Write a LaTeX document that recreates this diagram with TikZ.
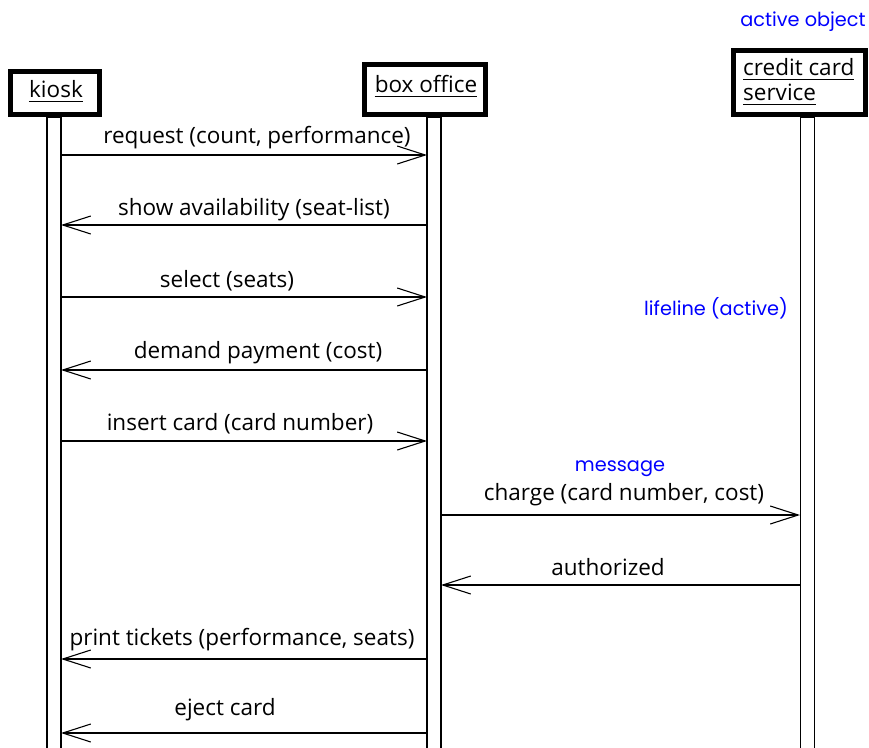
\documentclass[tikz,border=0pt]{standalone}
\usepackage{fontspec}
\setmainfont{Open Sans}
\newfontfamily\bluefont{Poppins}
\usetikzlibrary{arrows.meta}
\newcommand\objul[1]{\tikz[baseline=(t.base)]{\node[inner sep=0pt] (t) {#1};\draw[line width=1.6pt] ([yshift=-4.5pt]t.base west) -- ([yshift=-4.5pt]t.base east);}}
\begin{document}
\begin{tikzpicture}[x=1pt,y=-1pt,
  objbox/.style={draw=black,line width=5pt,fill=white,inner sep=0pt},
  objtxt/.style={inner sep=0pt,font=\fontsize{22.5}{25}\selectfont},
  lifebar/.style={draw=black,line width=1.3pt,fill=white,inner sep=0pt,minimum width=14pt},
  msg/.style={line width=1.1pt,-{Straight Barb[length=28pt,width=18pt,line width=1.1pt]}},
  lbl/.style={anchor=base,inner sep=0pt,font=\fontsize{22.5}{25}\selectfont},
  note/.style={anchor=base,inner sep=0pt,text=blue,font=\bluefont\fontsize{19.3}{22}\selectfont}]
\useasboundingbox (0,0) rectangle (869,747);
\fill[white] (0,0) rectangle (869,747);
% lifelines
\node[lifebar,minimum height=640pt] (kl) at (54,437) {};
\node[lifebar,minimum height=640pt] (bl) at (434,437) {};
\node[lifebar,minimum height=640pt] (cl) at (807.5,437) {};
% objects
\node[objbox,minimum width=89pt,minimum height=43pt] (kiosk) at (55,93) {};
\node[objtxt,anchor=base] (kt) at (56,97) {\objul{kiosk}};
\node[objbox,minimum width=121pt,minimum height=50pt] (box) at (425,89.5) {};
\node[objtxt,anchor=base] (bt) at (426,92) {\objul{box office}};
\node[objbox,minimum width=132pt,minimum height=64pt] (cc) at (799.5,82.5) {};
\node[objtxt,anchor=base west] (ct1) at (742,75) {\objul{credit card}};
\node[objtxt,anchor=base west] (ct2) at (742,100) {\objul{service}};
% coordinates
\coordinate (k1) at (61,155);  \coordinate (b1) at (427,155);
\coordinate (k2) at (61,225);  \coordinate (b2) at (427,225);
\coordinate (k3) at (61,297);  \coordinate (b3) at (427,297);
\coordinate (k4) at (61,370);  \coordinate (b4) at (427,370);
\coordinate (k5) at (61,441);  \coordinate (b5) at (427,441);
\coordinate (b6) at (441,515); \coordinate (c6) at (800,515);
\coordinate (b7) at (441,585); \coordinate (c7) at (800,585);
\coordinate (k8) at (61,659);  \coordinate (b8) at (427,659);
\coordinate (k9) at (61,733);  \coordinate (b9) at (427,733);
% messages
\draw[msg] (k1) -- (b1);
\draw[msg] (b2) -- (k2);
\draw[msg] (k3) -- (b3);
\draw[msg] (b4) -- (k4);
\draw[msg] (k5) -- (b5);
\draw[msg] (b6) -- (c6);
\draw[msg] (c7) -- (b7);
\draw[msg] (b8) -- (k8);
\draw[msg] (b9) -- (k9);
% labels
\node[lbl] (l1) at (257,143) {request (count, performance)};
\node[lbl] (l2) at (254,215) {show availability (seat-list)};
\node[lbl] (l3) at (227,287) {select (seats)};
\node[lbl] (l4) at (258,358) {demand payment (cost)};
\node[lbl] (l5) at (240,430) {insert card (card number)};
\node[lbl] (l6) at (624,500) {charge (card number, cost)};
\node[lbl] (l7) at (608,575) {authorized};
\node[lbl] (l8) at (242,645) {print tickets (performance, seats)};
\node[lbl] (l9) at (225,715) {eject card};
% notes
\node[note] (n1) at (803,26) {active object};
\node[note] (n2) at (716,315) {lifeline (active)};
\node[note] (n3) at (620,471) {message};
\end{tikzpicture}
\end{document}
